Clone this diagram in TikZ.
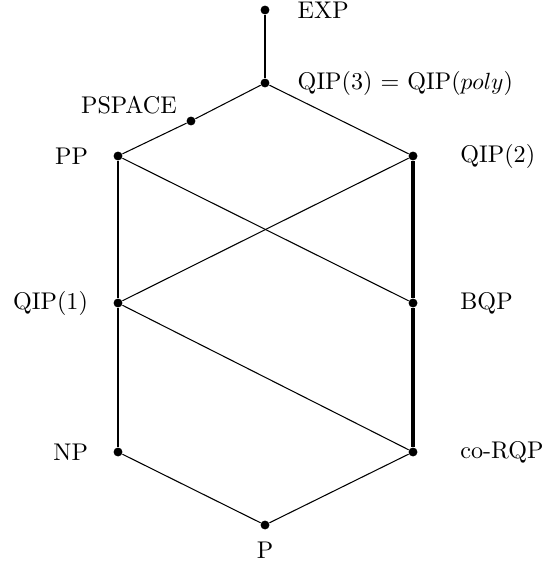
\documentclass[tikz,border=0pt]{standalone}
\usepackage{tikz}
\usetikzlibrary{positioning}

\tikzset{
  cls/.style={circle, fill=black, inner sep=0pt, minimum size=3.8pt},
  lbl/.style={inner sep=0pt, font=\fontsize{10.3}{12.3}\selectfont},
  thinedge/.style={line width=0.45pt},
  thickedge/.style={line width=0.95pt},
  heavyedge/.style={line width=1.3pt}
}

\begin{document}
\begin{tikzpicture}[x=0.015cm,y=-0.015cm]
  \useasboundingbox (0,0) rectangle (555,564);

  % classes, top to bottom
  \node[cls, label={[lbl, label distance=0.41cm]right:EXP}] (exp) at (265,10) {};
  \node[cls, label={[lbl, label distance=0.41cm]right:QIP(3) = QIP($poly$)}] (qip3) at (265,83) {};
  \node[cls, label={[lbl, label distance=2pt, xshift=-3pt]above left:PSPACE}] (pspace) at (191,121) {};
  \node[cls, label={[lbl, label distance=0.37cm]left:PP}] (pp) at (118,156) {};
  \node[cls, label={[lbl, label distance=0.63cm]right:QIP(2)}] (qip2) at (413,156) {};
  \node[cls, label={[lbl, label distance=0.37cm]left:QIP(1)}] (qip1) at (118,303) {};
  \node[cls, label={[lbl, label distance=0.63cm]right:BQP}] (bqp) at (413,303) {};
  \node[cls, label={[lbl, label distance=0.37cm]left:NP}] (np) at (118,452) {};
  \node[cls, label={[lbl, label distance=0.63cm]right:co-RQP}] (corqp) at (413,452) {};
  \node[cls, label={[lbl, label distance=0.17cm]below:P}] (p) at (265,525) {};

  % inclusions
  \draw[thickedge] (exp) -- (qip3);
  \draw[thinedge] (qip3) -- (pspace) -- (pp);
  \draw[thinedge] (qip3) -- (qip2);
  \draw[thickedge] (pp) -- (qip1) -- (np);
  \draw[thinedge] (pp) -- (bqp);
  \draw[thinedge] (qip1) -- (qip2);
  \draw[thinedge] (qip1) -- (corqp);
  \draw[heavyedge] (qip2) -- (bqp) -- (corqp);
  \draw[thinedge] (np) -- (p) -- (corqp);
\end{tikzpicture}
\end{document}
